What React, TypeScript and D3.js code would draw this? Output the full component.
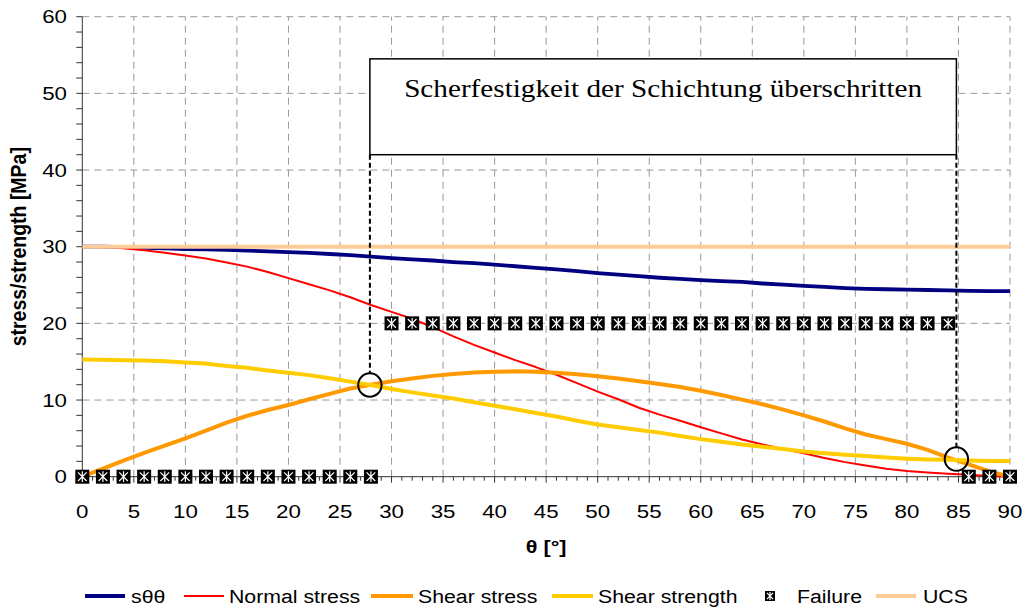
import * as d3 from 'd3';

// angle of bedding plane [deg]
const theta = [0, 2, 4, 6, 8, 10, 12, 14, 16, 18, 20, 22, 24, 26, 28, 30, 32, 34, 36, 38, 40, 42, 44, 46, 48, 50, 52, 54, 56, 58, 60, 62, 64, 66, 68, 70, 72, 74, 76, 78, 80, 82, 84, 86, 88, 90];

const sThetaTheta = [30.0, 30.0, 29.95, 29.85, 29.8, 29.7, 29.65, 29.6, 29.5, 29.4, 29.3, 29.2, 29.05, 28.9, 28.7, 28.5, 28.35, 28.2, 28.0, 27.85, 27.65, 27.45, 27.25, 27.05, 26.8, 26.55, 26.35, 26.15, 25.95, 25.8, 25.65, 25.5, 25.4, 25.2, 25.05, 24.9, 24.75, 24.6, 24.5, 24.45, 24.4, 24.35, 24.3, 24.25, 24.2, 24.2];
const normalStress = [30.0, 29.95, 29.8, 29.55, 29.2, 28.85, 28.45, 27.95, 27.4, 26.7, 25.9, 25.1, 24.3, 23.4, 22.4, 21.5, 20.6, 19.5, 18.3, 17.2, 16.2, 15.2, 14.3, 13.3, 12.2, 11.1, 10.1, 9.0, 8.1, 7.3, 6.45, 5.65, 4.85, 4.2, 3.6, 3.05, 2.45, 1.9, 1.45, 1.05, 0.75, 0.55, 0.4, 0.25, 0.1, 0.0];
const shearStress = [0.0, 1.05, 2.1, 3.1, 4.05, 5.0, 6.0, 7.05, 7.95, 8.7, 9.35, 10.1, 10.8, 11.5, 12.0, 12.45, 12.8, 13.15, 13.4, 13.6, 13.7, 13.75, 13.7, 13.55, 13.35, 13.1, 12.8, 12.45, 12.1, 11.7, 11.2, 10.65, 10.05, 9.45, 8.75, 8.0, 7.2, 6.3, 5.5, 4.9, 4.3, 3.5, 2.5, 1.6, 0.7, 0.0];
const shearStrength = [15.3, 15.25, 15.2, 15.15, 15.05, 14.9, 14.75, 14.45, 14.2, 13.85, 13.55, 13.25, 12.85, 12.4, 11.95, 11.45, 11.0, 10.6, 10.2, 9.7, 9.25, 8.8, 8.3, 7.85, 7.3, 6.8, 6.45, 6.1, 5.75, 5.3, 4.9, 4.55, 4.2, 3.9, 3.6, 3.3, 3.05, 2.85, 2.7, 2.5, 2.35, 2.25, 2.2, 2.1, 2.05, 2.05];
const failure = [0, 0, 0, 0, 0, 0, 0, 0, 0, 0, 0, 0, 0, 0, 0, 20, 20, 20, 20, 20, 20, 20, 20, 20, 20, 20, 20, 20, 20, 20, 20, 20, 20, 20, 20, 20, 20, 20, 20, 20, 20, 20, 20, 0, 0, 0];
const ucs = [30, 30, 30, 30, 30, 30, 30, 30, 30, 30, 30, 30, 30, 30, 30, 30, 30, 30, 30, 30, 30, 30, 30, 30, 30, 30, 30, 30, 30, 30, 30, 30, 30, 30, 30, 30, 30, 30, 30, 30, 30, 30, 30, 30, 30, 30];

const xMajor = [0, 5, 10, 15, 20, 25, 30, 35, 40, 45, 50, 55, 60, 65, 70, 75, 80, 85, 90];
const yMajor = [0, 10, 20, 30, 40, 50, 60];

// annotation: box and the two intersection points it refers to
const noteText = 'Scherfestigkeit der Schichtung überschritten';
const noteBox = { x0: 27.9, x1: 84.8, y0: 42.0, y1: 54.5 };
const notePoints: [number, number][] = [[27.9, 11.96], [84.8, 2.3]];

const W = 1025;
const H = 611;
const SX = 1.24; // the source image is stretched horizontally
const font = 'Arial, "Liberation Sans", sans-serif';

const lineSeries = [
    { name: 'sθθ', values: sThetaTheta, color: '#000080', width: 3.8 },
    { name: 'Normal stress', values: normalStress, color: '#FF0000', width: 2 },
    { name: 'Shear stress', values: shearStress, color: '#FF9900', width: 4 },
    { name: 'Shear strength', values: shearStrength, color: '#FFCC00', width: 4 },
];
const ucsSeries = { name: 'UCS', values: ucs, color: '#FFCC99', width: 4 };

function Marker({ cx, cy, s }: { cx: number; cy: number; s: number }) {
    const h = s / 2;
    const a = h * 0.62;
    return (
        <g transform={`translate(${cx},${cy})`}>
            <rect x={-h} y={-h} width={s} height={s} fill="#000" />
            <path d={`M${-a},${-a}L${a},${a}M${-a},${a}L${a},${-a}M0,${-a - 1}L0,${a + 1}`} stroke="#fff" strokeWidth={1.2} />
        </g>
    );
}

function Label({ x, y, anchor = 'start', size = 18, bold = false, sx = SX, children }: any) {
    return (
        <text transform={`translate(${x},${y}) scale(${sx},1)`} textAnchor={anchor} fontSize={size}
            fontWeight={bold ? 'bold' : 'normal'} fontFamily={font} fill="#000">{children}</text>
    );
}

export default function App() {
    const x = d3.scaleLinear().domain([0, 90]).range([82.3, 1010]);
    const y = d3.scaleLinear().domain([0, 60]).range([476.7, 16.7]);
    const [x0, x1] = x.range();
    const [y0, y1] = y.range();

    const line = (vals: number[]) => d3.line<number>()
        .x((_, i) => x(theta[i]))
        .y((d) => y(d))(vals) ?? '';

    const xMinor = d3.range(0, 91, 1);
    const yMinor = d3.range(0, 61, 2);

    const legend = [
        { kind: 'line', s: lineSeries[0], sw: [85, 125], tx: 131 },
        { kind: 'line', s: lineSeries[1], sw: [184, 224], tx: 229 },
        { kind: 'line', s: lineSeries[2], sw: [371, 413], tx: 418 },
        { kind: 'line', s: lineSeries[3], sw: [552, 593], tx: 598 },
        { kind: 'marker', s: { name: 'Failure' }, sw: [770, 770], tx: 797 },
        { kind: 'line', s: ucsSeries, sw: [876, 916], tx: 923 },
    ];
    const legendY = 596;

    return (
        <svg width={W} height={H} style={{ position: 'absolute', left: 0, top: 0, background: '#fff' }}>
            {/* grid */}
            <g stroke="#999" strokeWidth={1} strokeDasharray="7,5">
                {xMajor.filter((d) => d > 0).map((d) => (
                    <line key={'gx' + d} x1={x(d)} x2={x(d)} y1={y0} y2={y1} />
                ))}
                {yMajor.filter((d) => d > 0).map((d) => (
                    <line key={'gy' + d} x1={x0} x2={x1} y1={y(d)} y2={y(d)} />
                ))}
            </g>

            {/* axes */}
            <g stroke="#333" strokeWidth={1}>
                <line x1={x0} x2={x0} y1={y0} y2={y1} />
                <line x1={x0} x2={x1} y1={y0} y2={y0} />
                {yMinor.map((d) => (
                    <line key={'ty' + d} x1={x0 - 6} x2={x0} y1={y(d)} y2={y(d)} />
                ))}
                {xMinor.map((d) => (
                    <line key={'tx' + d} x1={x(d)} x2={x(d)} y1={y0} y2={y0 + (d % 5 === 0 ? 6 : 4)} />
                ))}
            </g>
            {yMajor.map((d) => (
                <Label key={'ly' + d} x={67} y={y(d) + 6.5} anchor="end">{d}</Label>
            ))}
            {xMajor.map((d) => (
                <Label key={'lx' + d} x={x(d)} y={518} anchor="middle">{d}</Label>
            ))}
            <Label x={(x0 + x1) / 2} y={553} anchor="middle" bold size={18} sx={1.2}>θ [°]</Label>
            <text transform={`translate(26,${(y0 + y1) / 2}) scale(1.15,1) rotate(-90)`} textAnchor="middle"
                fontSize={19.5} fontWeight="bold" fontFamily={font}>stress/strength [MPa]</text>

            {/* series */}
            {lineSeries.map((s) => (
                <path key={s.name} d={line(s.values)} fill="none" stroke={s.color} strokeWidth={s.width} strokeLinejoin="round" />
            ))}
            {failure.map((v, i) => (
                <Marker key={'f' + i} cx={x(theta[i])} cy={y(v)} s={14} />
            ))}
            <path d={line(ucsSeries.values)} fill="none" stroke={ucsSeries.color} strokeWidth={ucsSeries.width} />

            {/* annotation */}
            <g stroke="#000" fill="none">
                {notePoints.map(([px, py], i) => (
                    <g key={'np' + i}>
                        <line x1={x(px)} x2={x(px)} y1={y(noteBox.y0)} y2={y(py) - 11.7} strokeWidth={2} strokeDasharray="5,3" />
                        <circle cx={x(px)} cy={y(py)} r={11.7} strokeWidth={2} />
                    </g>
                ))}
                <rect x={x(noteBox.x0)} y={y(noteBox.y1)} width={x(noteBox.x1) - x(noteBox.x0)}
                    height={y(noteBox.y0) - y(noteBox.y1)} fill="#fff" strokeWidth={1.5} />
            </g>
            <text x={(x(noteBox.x0) + x(noteBox.x1)) / 2} y={97} textAnchor="middle" fontSize={26}
                fontFamily='"Times New Roman", "Liberation Serif", serif' textLength={518} lengthAdjust="spacingAndGlyphs">{noteText}</text>

            {/* legend */}
            {legend.map((l) => (
                <g key={l.s.name}>
                    {l.kind === 'line'
                        ? <line x1={l.sw[0]} x2={l.sw[1]} y1={legendY} y2={legendY} stroke={(l.s as any).color} strokeWidth={(l.s as any).width} />
                        : <Marker cx={l.sw[0]} cy={legendY} s={10} />}
                    <Label x={l.tx} y={legendY + 7} size={19} sx={1.12}>{l.s.name}</Label>
                </g>
            ))}
        </svg>
    );
}
